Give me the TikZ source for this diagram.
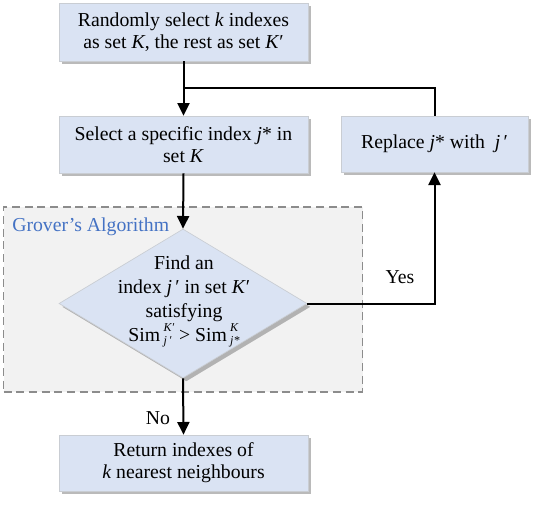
\documentclass[tikz,border=0pt]{standalone}
\usepackage{fontspec}
\setmainfont{Liberation Serif}
\usetikzlibrary{shapes.geometric,shadows,arrows.meta}
\definecolor{boxfill}{HTML}{DAE3F3}
\definecolor{boxline}{HTML}{C9CDD3}
\definecolor{grovfill}{HTML}{F2F2F2}
\definecolor{grovline}{HTML}{8C8C8C}
\definecolor{grovtext}{HTML}{4472C4}
\newcommand\pr{\symbol{"2032}}
\newcommand\supsub[2]{\raisebox{0.3ex}{\fontsize{9pt}{9pt}\selectfont\itshape\begin{tabular}[c]{@{}l@{}}#1\\[0.5pt]#2\end{tabular}}}
\begin{document}
\begin{tikzpicture}[x=0.75pt,y=-0.75pt,
  every node/.style={font=\fontsize{14.8pt}{16.5pt}\selectfont},
  procbox/.style={draw=boxline,line width=0.5pt,fill=boxfill,minimum width=249*0.75pt,
    align=center,inner sep=0pt,
    drop shadow={shadow xshift=2.5pt,shadow yshift=-2.5pt,opacity=0.45,fill=black!60}},
  flow/.style={line width=1.5pt,-{Triangle[width=9pt,length=9.5pt]}},
  plainline/.style={line width=1.5pt}]
\useasboundingbox (0,0) rectangle (535,507);
% Grover region
\node[draw=grovline,dash pattern=on 6pt off 3.5pt,line width=1.1pt,fill=grovfill,
  minimum width=359*0.75pt,minimum height=185*0.75pt,inner sep=0pt] (grover) at (183,299.5) {};
\node[text=grovtext,anchor=west,inner sep=0pt] (grovtitle) at (12,227) {Grover’s Algorithm};
% boxes
\node[procbox,minimum height=58*0.75pt] (b1) at (183.5,32) {Randomly select \textit{k} indexes\\as set \textit{K}, the rest as set \textit{K}\pr};
\node[procbox,minimum height=57*0.75pt] (b2) at (183.5,144.5) {Select a specific index \textit{j}* in\\set \textit{K}};
\node[procbox,minimum width=187*0.75pt,minimum height=56*0.75pt] (rep) at (434.5,144) {Replace \textit{j}* with\ \ \textit{j}\,\pr};
\node[procbox,minimum height=56*0.75pt] (b4) at (183.5,463) {Return indexes of\\\textit{k} nearest neighbours};
% diamond
\node[diamond,draw=boxline,line width=0.5pt,fill=boxfill,minimum width=248*0.75pt,minimum height=149*0.75pt,
  inner sep=0pt,drop shadow={shadow xshift=2.5pt,shadow yshift=-2.5pt,opacity=0.45,fill=black!60}] (dec) at (183,303.5) {};
\node[align=center,font=\fontsize{14.8pt}{18pt}\selectfont] (dectext) at (184,302) {Find an\\index \textit{j}\,\pr{} in set \textit{K}\pr\\satisfying\\
  Sim\,\supsub{K\pr}{j\,\pr} \textgreater{} Sim\,\supsub{K}{j*}};
% connectors
\coordinate (join) at (183.5,88);
\draw[flow] (b1.south) -- (b2.north);
\draw[plainline] (rep.north) |- (join);
\draw[flow] (b2.south) -- (dec.north);
\draw[flow] (dec.east) -| (rep.south);
\draw[flow] (dec.south) -- (b4.north);
\node (yes) at (400,277) {Yes};
\node (no) at (158,418) {No};
\end{tikzpicture}
\end{document}
